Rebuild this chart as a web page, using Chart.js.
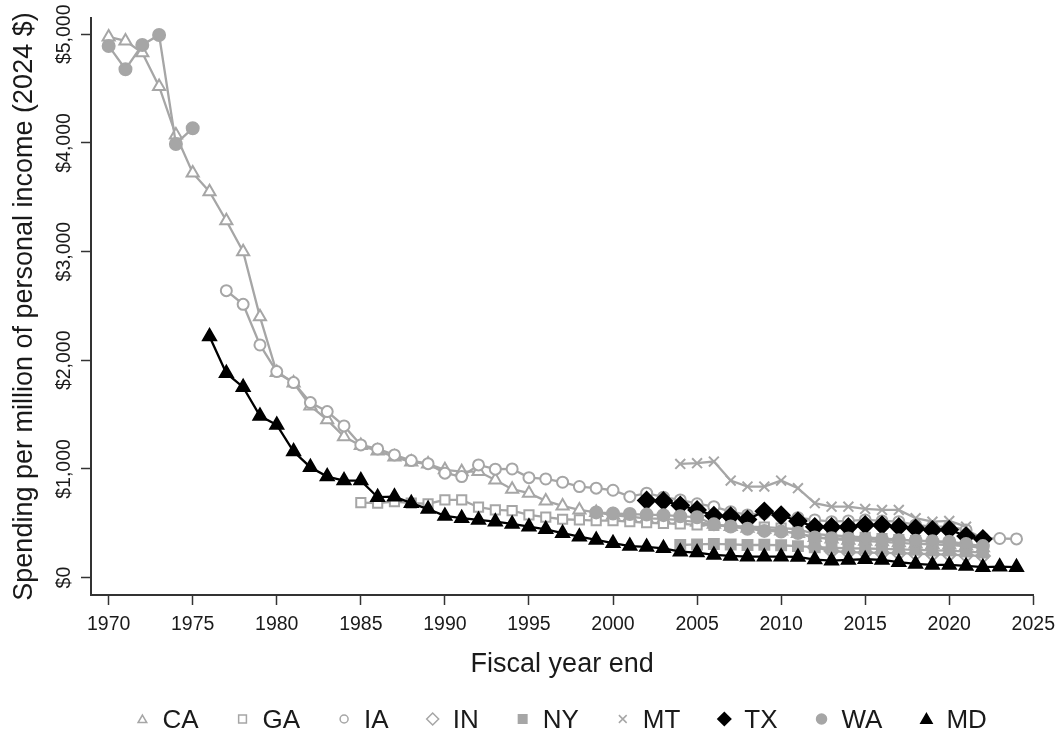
<!DOCTYPE html>
<html>
<head>
<meta charset="utf-8">
<title>Spending per million of personal income</title>
<script src="https://cdn.jsdelivr.net/npm/chart.js@4.4.1/dist/chart.umd.min.js"></script>
<style>
  html, body { margin: 0; padding: 0; background: #ffffff; }
  #wrap { width: 1063px; height: 733px; }
</style>
</head>
<body>
<div id="wrap"><canvas id="chart" width="1063" height="733"></canvas></div>
<script>
// Fiscal years covered by the series (one slot per year).
const years = [
  1970, 1971, 1972, 1973, 1974, 1975, 1976, 1977, 1978, 1979,
  1980, 1981, 1982, 1983, 1984, 1985, 1986, 1987, 1988, 1989,
  1990, 1991, 1992, 1993, 1994, 1995, 1996, 1997, 1998, 1999,
  2000, 2001, 2002, 2003, 2004, 2005, 2006, 2007, 2008, 2009,
  2010, 2011, 2012, 2013, 2014, 2015, 2016, 2017, 2018, 2019,
  2020, 2021, 2022, 2023, 2024
];

const xTicks = [1970, 1975, 1980, 1985, 1990, 1995, 2000, 2005, 2010, 2015, 2020, 2025];
const yTicks = [0, 1000, 2000, 3000, 4000, 5000];
const yTickLabels = ['$0', '$1,000', '$2,000', '$3,000', '$4,000', '$5,000'];

const xTitle = 'Fiscal year end';
const yTitle = 'Spending per million of personal income (2024 $)';

const _ = null; // no data for that year

// Spending per million of personal income, 2024 dollars, by state.
const caValues = [
  4976, 4939, 4830, 4520, 4073, 3724, 3552, 3284, 3000, 2400,
  1887, 1792, 1580, 1452, 1297, 1215, 1166, 1110, 1064, 1046,
  992, 975, 976, 899, 814, 777, 706, 660, 623, 600,
  575, 560, 545, 540, 530, 510, 490, 470, 455, 445,
  430, 405, 370, 355, 345, 335, 330, 320, 310, 305,
  300, 290, 275, _, _
];
const gaValues = [
  _, _, _, _, _, _, _, _, _, _,
  _, _, _, _, _, 690, 685, 699, 685, 680,
  715, 715, 648, 623, 617, 577, 556, 537, 531, 525,
  525, 515, 505, 500, 495, 485, 480, 475, 470, 465,
  455, 445, 400, 390, 380, 370, 360, 350, 340, 330,
  320, 300, 270, _, _
];
const iaValues = [
  _, _, _, _, _, _, _, 2641, 2515, 2141,
  1896, 1795, 1611, 1528, 1396, 1221, 1184, 1129, 1077, 1049,
  961, 930, 1037, 998, 1000, 920, 908, 878, 838, 823,
  804, 745, 777, 740, 715, 680, 653, 607, 577, 593,
  561, 552, 531, 515, 522, 531, 522, 515, 485, 469,
  469, 439, 363, 360, 356
];
const inValues = [
  _, _, _, _, _, _, _, _, _, _,
  _, _, _, _, _, _, _, _, _, _,
  _, _, _, _, _, _, _, _, _, _,
  _, _, _, _, _, _, _, _, _, _,
  _, _, 280, 245, 235, 230, 228, 225, 220, 215,
  212, 205, 200, _, _
];
const nyValues = [
  _, _, _, _, _, _, _, _, _, _,
  _, _, _, _, _, _, _, _, _, _,
  _, _, _, _, _, _, _, _, _, _,
  _, _, _, _, 300, 305, 310, 305, 300, 302,
  298, 290, 280, 275, 270, 268, 265, 260, 255, 250,
  248, 240, 230, _, _
];
const mtValues = [
  _, _, _, _, _, _, _, _, _, _,
  _, _, _, _, _, _, _, _, _, _,
  _, _, _, _, _, _, _, _, _, _,
  _, _, _, _, 1046, 1053, 1068, 893, 838, 838,
  893, 823, 685, 653, 653, 632, 623, 623, 547, 515,
  522, 469, _, _, _
];
const txValues = [
  _, _, _, _, _, _, _, _, _, _,
  _, _, _, _, _, _, _, _, _, _,
  _, _, _, _, _, _, _, _, _, _,
  _, _, 710, 705, 665, 623, 570, 565, 535, 610,
  574, 520, 467, 466, 466, 485, 482, 467, 452, 439,
  441, 382, 355, _, _
];
const waValues = [
  4893, 4679, 4902, 4994, 3991, 4136, _, _, _, _,
  _, _, _, _, _, _, _, _, _, _,
  _, _, _, _, _, _, _, _, _, 600,
  590, 585, 580, 575, 565, 555, 490, 470, 450, 430,
  425, 410, 370, 362, 360, 355, 350, 345, 340, 335,
  330, 310, 290, _, _
];
const mdValues = [
  _, _, _, _, _, _, 2218, 1881, 1752, 1488,
  1405, 1160, 1016, 930, 893, 893, 740, 745, 685, 631,
  568, 547, 531, 515, 494, 469, 445, 409, 377, 347,
  317, 290, 282, 270, 239, 230, 209, 200, 193, 193,
  193, 190, 166, 156, 163, 169, 163, 142, 126, 117,
  117, 108, 96, 101, 96
];

const GREY = '#a6a6a6';
const BLACK = '#000000';
const INK = '#1a1a1a';
const FONT = '"Liberation Sans", Arial, Helvetica, sans-serif';

// Marker style per state: shape, size, fill and outline.
const series = [
  { label: 'CA', values: caValues, shape: 'triangle', r: 7,   fill: '#ffffff', color: GREY, legendR: 5 },
  { label: 'GA', values: gaValues, shape: 'rect',     r: 6.5, fill: '#ffffff', color: GREY, legendR: 5.5 },
  { label: 'IA', values: iaValues, shape: 'circle',   r: 5.5, fill: '#ffffff', color: GREY, legendR: 4 },
  { label: 'IN', values: inValues, shape: 'rectRot',  r: 7,   fill: '#ffffff', color: GREY, legendR: 6 },
  { label: 'NY', values: nyValues, shape: 'rect',     r: 7,   fill: GREY,      color: GREY, legendR: 6 },
  { label: 'MT', values: mtValues, shape: 'crossRot', r: 7,   fill: GREY,      color: GREY, legendR: 5.5 },
  { label: 'TX', values: txValues, shape: 'rectRot',  r: 8.5, fill: BLACK,     color: BLACK, legendR: 6.5 },
  { label: 'WA', values: waValues, shape: 'circle',   r: 6,   fill: GREY,      color: GREY, legendR: 5 },
  { label: 'MD', values: mdValues, shape: 'triangle', r: 7.5, fill: BLACK,     color: BLACK, legendR: 6.5 }
];

const datasets = series.map((s, i) => ({
  label: s.label,
  data: years.map((yr, k) => ({ x: yr, y: s.values[k] })),
  borderColor: s.color,
  backgroundColor: s.fill,
  borderWidth: 2.3,
  pointStyle: s.shape,
  pointRadius: s.r,
  pointBorderWidth: 2,
  pointBackgroundColor: s.fill,
  pointBorderColor: s.color,
  tension: 0,
  spanGaps: false,
  fill: false,
  order: series.length - i
}));

// Rotated y tick labels, axis titles and the bottom legend.
const decorations = {
  id: 'decorations',
  afterDraw(chart) {
    const ctx = chart.ctx;
    const area = chart.chartArea;
    const yScale = chart.scales.y;
    ctx.save();
    ctx.fillStyle = INK;

    ctx.font = '19.5px ' + FONT;
    ctx.textAlign = 'center';
    ctx.textBaseline = 'alphabetic';
    yTicks.forEach((v, i) => {
      const py = yScale.getPixelForValue(v);
      ctx.save();
      ctx.translate(70, py);
      ctx.rotate(-Math.PI / 2);
      ctx.fillText(yTickLabels[i], 0, 0);
      ctx.restore();
    });

    ctx.font = '27px ' + FONT;
    ctx.save();
    ctx.translate(32, (area.top + area.bottom) / 2);
    ctx.rotate(-Math.PI / 2);
    ctx.fillText(yTitle, 0, 0);
    ctx.restore();

    ctx.fillText(xTitle, (area.left + area.right) / 2, 672);

    // Legend row
    ctx.font = '26px ' + FONT;
    const symToText = 20;
    const itemGap = 44;
    const widths = series.map(s => ctx.measureText(s.label).width);
    let total = 0;
    series.forEach((s, i) => {
      total += symToText + widths[i];
      if (i < series.length - 1) total += itemGap;
    });
    total += 5;
    let x = (area.left + area.right) / 2 - total / 2 + 5;
    const ly = 719;
    const baseY = 728;
    ctx.textAlign = 'left';
    series.forEach((s, i) => {
      ctx.save();
      ctx.fillStyle = s.fill;
      ctx.strokeStyle = s.color;
      ctx.lineWidth = 1.5;
      Chart.helpers.drawPoint(ctx, {
        pointStyle: s.shape,
        radius: s.legendR,
        rotation: 0,
        borderWidth: 1.5
      }, x, s.shape === 'triangle' ? ly + 1 : ly);
      ctx.restore();
      ctx.fillStyle = INK;
      ctx.fillText(s.label, x + symToText, baseY);
      x += symToText + widths[i] + itemGap;
    });

    ctx.restore();
  }
};

new Chart(document.getElementById('chart'), {
  type: 'line',
  data: { datasets },
  options: {
    responsive: false,
    animation: false,
    devicePixelRatio: 1,
    layout: { padding: { top: 18, right: 28, left: 0, bottom: 0 } },
    plugins: {
      legend: { display: false },
      tooltip: { enabled: false }
    },
    scales: {
      x: {
        type: 'linear',
        min: 1968.95,
        max: 2025,
        afterBuildTicks: s => { s.ticks = xTicks.map(v => ({ value: v })); },
        afterFit: s => { s.height = 138; },
        ticks: {
          color: INK,
          font: { family: FONT, size: 19.5 },
          padding: 8,
          maxRotation: 0,
          minRotation: 0,
          callback: v => String(v)
        },
        grid: {
          display: true,
          drawOnChartArea: false,
          drawTicks: true,
          tickLength: 10,
          tickColor: '#333333',
          tickWidth: 1.5
        },
        border: { display: true, color: '#333333', width: 2 }
      },
      y: {
        type: 'linear',
        min: -160,
        max: 5150,
        afterBuildTicks: s => { s.ticks = yTicks.map(v => ({ value: v })); },
        afterFit: s => { s.width = 91; },
        ticks: { display: false },
        grid: {
          display: true,
          drawOnChartArea: false,
          drawTicks: true,
          tickLength: 10,
          tickColor: '#333333',
          tickWidth: 1.5
        },
        border: { display: true, color: '#333333', width: 2 }
      }
    }
  },
  plugins: [decorations]
});
</script>
</body>
</html>
